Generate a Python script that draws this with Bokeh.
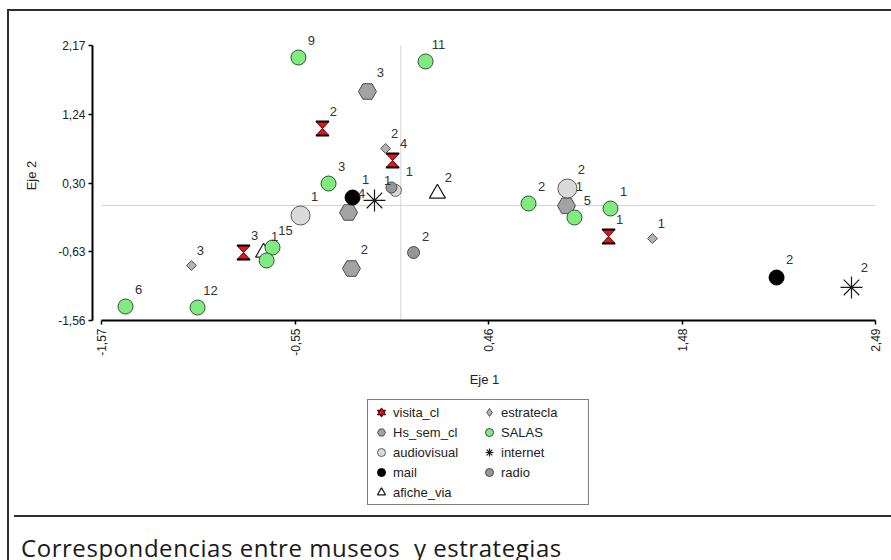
import math
from bokeh.plotting import figure
from bokeh.models import (FixedTicker, Legend, LegendItem, Div,
                          CustomJSTickFormatter)
from bokeh.layouts import column
from bokeh.core.properties import value
from bokeh.embed import file_html
from bokeh.resources import INLINE

# ---------------- data ----------------
x_ticks = [-1.57, -0.55, 0.46, 1.48, 2.49]
y_ticks = [-1.56, -0.63, 0.30, 1.24, 2.17]

visita_x = [-0.411, -0.043, -0.825, 1.090]
visita_y = [1.044, 0.610, -0.639, -0.421]
visita_lab = ["2", "4", "3", "1"]

hs_x = [-0.175, -0.274, -0.259, 0.869]
hs_y = [1.546, -0.095, -0.855, -0.005]
hs_lab = ["3", "4", "2", "1"]

av_x = [-0.526, -0.028, 0.874]
av_y = [-0.136, 0.205, 0.230]
av_lab = ["1", "1", "2"]

mail_x = [-0.253, 1.971]
mail_y = [0.108, -0.977]
mail_lab = ["1", "2"]

afiche_x = [0.192, -0.720]
afiche_y = [0.163, -0.638]
afiche_lab = ["2", "1"]

estr_x = [-0.080, -1.098, 1.320]
estr_y = [0.773, -0.814, -0.448]
estr_lab = ["2", "3", "1"]

salas_x = [-0.537, 0.130, -0.379, 0.670, 0.911, 1.100, -0.673, -0.704, -1.444, -1.066]
salas_y = [2.007, 1.953, 0.298, 0.027, -0.163, -0.041, -0.570, -0.746, -1.370, -1.384]
salas_lab = ["9", "11", "3", "2", "5", "1", "15", "", "6", "12"]

internet_x = [-0.138, 2.364]
internet_y = [0.068, -1.112]
internet_lab = ["1", "2"]

radio_x = [0.067, -0.049]
radio_y = [-0.638, 0.244]
radio_lab = ["2", ""]

series = [
    ("visita_cl", visita_x, visita_y, visita_lab),
    ("Hs_sem_cl", hs_x, hs_y, hs_lab),
    ("audiovisual", av_x, av_y, av_lab),
    ("mail", mail_x, mail_y, mail_lab),
    ("afiche_via", afiche_x, afiche_y, afiche_lab),
    ("estratecla", estr_x, estr_y, estr_lab),
    ("SALAS", salas_x, salas_y, salas_lab),
    ("internet", internet_x, internet_y, internet_lab),
    ("radio", radio_x, radio_y, radio_lab),
]

# ---------------- styles ----------------
AV_SIZES = [19, 12, 19]
RADIO_SIZES = [12, 11]
FONT = "Liberation Sans"
RED = "#e8141c"

STYLE = {
    "Hs_sem_cl": dict(marker="hex", size=18, fill_color="#a3a3a3", line_color="#4a4a4a", line_width=1),
    "audiovisual": dict(marker="circle", size=AV_SIZES, fill_color="#dadada", line_color="#5c5c5c", line_width=1),
    "mail": dict(marker="circle", size=15, fill_color="black", line_color="black"),
    "afiche_via": dict(marker="triangle", size=16, fill_color="white", line_color="#1a1a1a", line_width=1.2),
    "estratecla": dict(marker="square", angle=math.pi / 4, size=7, fill_color="#b3b3b3", line_color="#555555", line_width=1),
    "SALAS": dict(marker="circle", size=15, fill_color="#80ec80", line_color="#3a4a3a", line_width=1),
    "internet": dict(marker="asterisk", size=22, line_color="#1a1a1a", line_width=1.2),
    "radio": dict(marker="circle", size=RADIO_SIZES, fill_color="#969696", line_color="#4a4a4a", line_width=1),
}
LABEL_OFFSETS = {
    "visita_cl": (11, -17), "Hs_sem_cl": (13, -19), "audiovisual": (14, -19),
    "mail": (13, -18), "afiche_via": (11, -16), "estratecla": (9, -15),
    "SALAS": (13, -17), "internet": (13, -20), "radio": (12, -16),
}

PX_Y = 275 / (y_ticks[-1] - y_ticks[0])
X0, X1 = -1.6172, 2.4952
Y0, Y1 = y_ticks[0], y_ticks[-1] + 15 / PX_Y
FRAME_W = 784
PX_X = FRAME_W / (X1 - X0)

p = figure(width=878, height=379, x_range=(X0, X1), y_range=(Y0, Y1),
           output_backend="svg", toolbar_location=None,
           min_border_left=83, min_border_right=11, min_border_top=19,
           min_border_bottom=70, outline_line_color=None,
           background_fill_color="white", border_fill_color="white")
p.grid.visible = False

fmt = CustomJSTickFormatter(code="return tick.toFixed(2).replace('.', ',');")
for ax, ticks in ((p.xaxis[0], x_ticks), (p.yaxis[0], y_ticks)):
    ax.ticker = FixedTicker(ticks=ticks)
    ax.formatter = fmt
    ax.bounds = (ticks[0], ticks[-1])
    ax.axis_line_width = 2
    ax.axis_line_color = "black"
    ax.major_tick_line_color = "black"
    ax.major_tick_line_width = 1.5
    ax.major_tick_in = 0
    ax.major_tick_out = 4
    ax.minor_tick_line_color = None
    ax.major_label_text_font = FONT
    ax.major_label_text_font_size = "12px"
    ax.major_label_text_color = "#222222"
    ax.axis_label_text_font = FONT
    ax.axis_label_text_font_size = "13px"
    ax.axis_label_text_font_style = "normal"
    ax.axis_label_text_color = "#222222"
p.xaxis.axis_label = "Eje 1"
p.yaxis.axis_label = "Eje 2"
p.xaxis.major_label_orientation = math.pi / 2
p.xaxis.major_label_standoff = 4
p.yaxis.major_label_standoff = 3
p.xaxis.axis_label_standoff = 13
p.yaxis.axis_label_standoff = 16

# reference lines through the origin, spanning the axis bounds
p.segment(x0=[0, x_ticks[0]], y0=[y_ticks[0], 0], x1=[0, x_ticks[-1]], y1=[y_ticks[-1], 0],
          line_color="#d4d4d4", line_width=1)

# visita_cl: hourglass built from two triangles meeting at the point
HW, HH = 6.5 / PX_X, 7.0 / PX_Y
hg_xs = [[x - HW, x + HW, x, x + HW, x - HW, x] for x in visita_x]
hg_ys = [[y + HH, y + HH, y, y - HH, y - HH, y] for y in visita_y]
p.patches(hg_xs, hg_ys, fill_color=RED, line_color="#5a0000", line_width=1)
for sgn in (1, -1):
    p.segment(x0=[x - HW for x in visita_x], y0=[y + sgn * HH for y in visita_y],
              x1=[x + HW for x in visita_x], y1=[y + sgn * HH for y in visita_y],
              line_color="black", line_width=2)

for name, xs, ys, labs in series[1:]:
    p.scatter(xs, ys, **STYLE[name])

for name, xs, ys, labs in series:
    dx, dy = LABEL_OFFSETS[name]
    p.text(x=xs, y=ys, text=labs, x_offset=dx, y_offset=dy,
           text_font=value(FONT), text_font_size="13px", text_color="#333333",
           text_align="center", text_baseline="middle")

# ---------------- legend strip (its own small canvas; proxies lie off its view) ----------------
lg = figure(width=878, height=120, x_range=(100, 101), y_range=(100, 101),
            x_axis_type=None, y_axis_type=None, output_backend="svg",
            toolbar_location=None, min_border=0, outline_line_color=None,
            background_fill_color="white", border_fill_color="white")
lg.grid.visible = False
items = []
for name, xs, ys, labs in series:
    if name == "visita_cl":
        rs = [lg.scatter(xs, ys, marker="inverted_triangle", fill_color=RED, line_color="#400000"),
              lg.scatter(xs, ys, marker="triangle", fill_color=RED, line_color="#400000")]
    else:
        st = dict(STYLE[name])
        st.pop("size", None)
        st.pop("angle", None)
        if name == "estratecla":
            st["marker"] = "diamond"
        rs = [lg.scatter(xs, ys, **st)]
    items.append(LegendItem(label=name, renderers=rs))

legend = Legend(items=items, orientation="vertical", nrows=5, location=(275, 5),
                glyph_width=22, glyph_height=20, spacing=0, padding=2, label_standoff=1,
                label_height=20, label_width=85,
                label_text_font=FONT, label_text_font_size="13px", label_text_color="#222222",
                border_line_color="black", border_line_width=1, margin=0,
                background_fill_color="white")
lg.add_layout(legend, "center")

cap = Div(text="Correspondencias entre museos&nbsp; y estrategias", width=878, height=46,
          styles={"border-top": "2px solid #2e2e2e", "font-family": "Open Sans",
                  "font-size": "24px", "letter-spacing": "0.55px", "color": "#1a1a1a",
                  "padding-left": "7px", "padding-top": "14px",
                  "box-sizing": "border-box", "white-space": "nowrap"})

layout = column(p, lg, cap, margin=(9, 0, 0, 7), spacing=0,
                styles={"border": "2px solid #2e2e2e"})

open("out.html", "w").write(file_html(layout, INLINE))
